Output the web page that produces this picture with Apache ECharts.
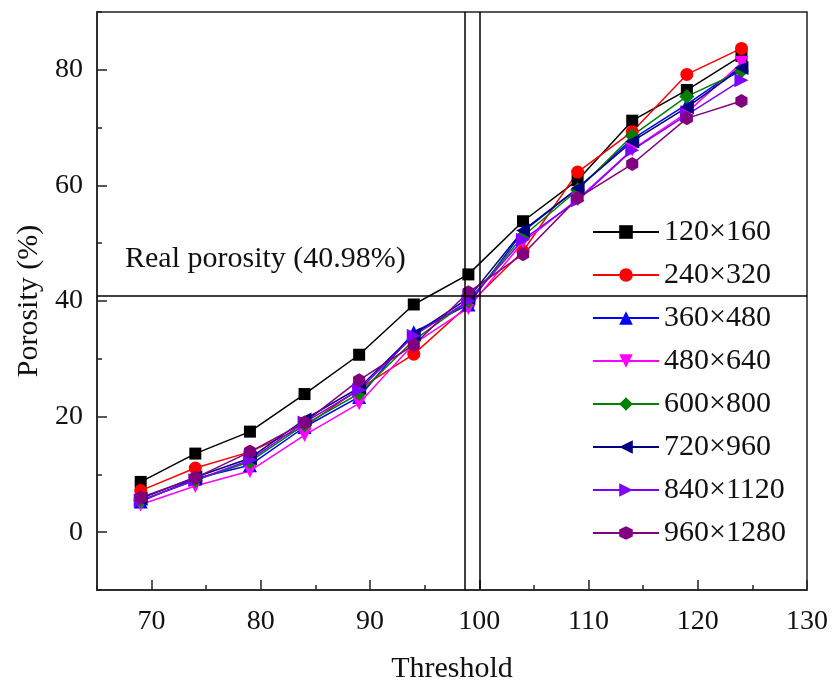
<!DOCTYPE html>
<html>
<head>
<meta charset="utf-8">
<title>Porosity vs threshold</title>
<script src="https://cdn.jsdelivr.net/npm/echarts@6/dist/echarts.min.js"></script>
<style>
    html, body { margin: 0; padding: 0; background: #fff; }
    #porosity-chart { width: 832px; height: 680px; }
</style>
</head>
<body>
<div id="porosity-chart"></div>
<script>
// x values (threshold)
var thresholds = [69, 74, 79, 84, 89, 94, 99, 104, 109, 114, 119, 124];

// porosity (%) for each image size
var p120x160  = [8.7, 13.6, 17.4, 23.9, 30.7, 39.4, 44.6, 53.8, 60.9, 71.2, 76.5, 82.4];
var p240x320  = [7.2, 11.1, 13.9, 18.3, 24.8, 30.8, 39.3, 48.6, 62.3, 69.3, 79.2, 83.7];
var p360x480  = [5.3, 9.3, 11.6, 18.2, 23.4, 34.6, 39.4, 52.0, 59.5, 68.0, 74.0, 80.5];
var p480x640  = [4.8, 8.0, 10.6, 16.8, 22.3, 32.6, 38.8, 50.2, 57.6, 66.2, 72.6, 81.2];
var p600x800  = [5.5, 9.0, 12.2, 18.6, 24.0, 33.2, 40.0, 51.2, 59.2, 68.6, 75.4, 79.8];
var p720x960  = [5.8, 9.5, 12.8, 19.5, 25.0, 34.2, 40.5, 52.2, 59.5, 67.6, 73.5, 80.3];
var p840x1120 = [5.5, 9.0, 12.5, 19.0, 24.6, 34.0, 40.0, 50.6, 57.4, 66.1, 72.2, 78.2];
var p960x1280 = [6.0, 9.4, 13.9, 19.0, 26.3, 32.4, 41.5, 48.1, 57.8, 63.7, 71.6, 74.6];

var seriesNames = ['120×160', '240×320', '360×480', '480×640', '600×800', '720×960', '840×1120', '960×1280'];

var realPorosity = 40.98;
var thresholdLines = [98.7, 100.05];

var xMajorTicks = [70, 80, 90, 100, 110, 120, 130];
var yMajorTicks = [0, 20, 40, 60, 80];

var FONT = "'Liberation Serif', 'Times New Roman', serif";
var AXIS_COLOR = '#222';

function pairs(values) {
    var out = [];
    for (var i = 0; i < thresholds.length; i++) {
        out.push([thresholds[i], values[i]]);
    }
    return out;
}

var hexagon = 'path://M0,-1L0.866,-0.5L0.866,0.5L0,1L-0.866,0.5L-0.866,-0.5Z';

var styles = [
    { data: p120x160,  color: '#000000', symbol: 'rect',     size: 12, rotate: 0 },
    { data: p240x320,  color: '#ff0000', symbol: 'circle',   size: 13, rotate: 0 },
    { data: p360x480,  color: '#0000ff', symbol: 'triangle', size: 14, rotate: 0 },
    { data: p480x640,  color: '#ff00ff', symbol: 'triangle', size: 14, rotate: 180 },
    { data: p600x800,  color: '#008000', symbol: 'diamond',  size: 15, rotate: 0 },
    { data: p720x960,  color: '#000080', symbol: 'triangle', size: 14, rotate: 90 },
    { data: p840x1120, color: '#8000ff', symbol: 'triangle', size: 14, rotate: -90 },
    { data: p960x1280, color: '#800080', symbol: hexagon,    size: 14, rotate: 0 }
];

var series = [];
for (var k = 0; k < styles.length; k++) {
    var st = styles[k];
    var s = {
        name: seriesNames[k],
        type: 'line',
        data: pairs(st.data),
        symbol: st.symbol,
        symbolSize: st.size,
        symbolRotate: st.rotate,
        symbolKeepAspect: true,
        showSymbol: true,
        lineStyle: { color: st.color, width: 1.5 },
        itemStyle: { color: st.color },
        emphasis: { disabled: true },
        animation: false
    };
    if (k === 0) {
        // reference lines: real porosity and the two thresholds
        s.markLine = {
            silent: true,
            symbol: ['none', 'none'],
            label: { show: false },
            lineStyle: { color: '#000', type: 'solid', width: 1.5 },
            data: [
                { yAxis: realPorosity },
                { xAxis: thresholdLines[0] },
                { xAxis: thresholdLines[1] }
            ],
            animation: false
        };
    }
    series.push(s);
}

var myChart = echarts.init(document.getElementById('porosity-chart'));

var tickStyle = { color: AXIS_COLOR, width: 1.5 };

var option = {
    backgroundColor: '#fff',
    animation: false,
    grid: {
        left: 97,
        top: 12,
        right: 25,
        bottom: 90,
        containLabel: false,
        outerBoundsMode: 'none',
        show: true,
        borderColor: AXIS_COLOR,
        borderWidth: 1.5
    },
    legend: {
        orient: 'vertical',
        left: 592,
        top: 217,
        padding: 0,
        itemWidth: 66,
        itemHeight: 17,
        itemGap: 13,
        textStyle: { fontFamily: FONT, fontSize: 30, lineHeight: 30, color: '#111' },
        data: seriesNames
    },
    graphic: [
        {
            type: 'text',
            left: 125,
            top: 244,
            style: { text: 'Real porosity (40.98%)', font: '30px ' + FONT, fill: '#111' }
        }
    ],
    xAxis: [
        {
            type: 'value',
            min: 65,
            max: 130,
            interval: 5,
            name: 'Threshold',
            nameLocation: 'middle',
            nameGap: 64,
            nameTextStyle: { fontFamily: FONT, fontSize: 30, color: '#111' },
            axisLine: { show: true, onZero: false, lineStyle: tickStyle },
            axisTick: { show: true, inside: true, length: 5, lineStyle: tickStyle },
            axisLabel: { customValues: xMajorTicks, fontFamily: FONT, fontSize: 28, color: '#111', margin: 18 },
            splitLine: { show: false }
        },
        {
            // longer ticks at the labelled values
            type: 'value',
            min: 65,
            max: 130,
            position: 'bottom',
            axisLine: { show: false, onZero: false },
            axisTick: { show: true, inside: true, length: 10, customValues: xMajorTicks, lineStyle: tickStyle },
            axisLabel: { show: false },
            splitLine: { show: false }
        }
    ],
    yAxis: [
        {
            type: 'value',
            min: -10,
            max: 90,
            interval: 10,
            name: 'Porosity (%)',
            nameLocation: 'middle',
            nameGap: 52,
            nameTextStyle: { fontFamily: FONT, fontSize: 30, color: '#111' },
            axisLine: { show: true, onZero: false, lineStyle: tickStyle },
            axisTick: { show: true, inside: true, length: 5, lineStyle: tickStyle },
            axisLabel: { customValues: yMajorTicks, fontFamily: FONT, fontSize: 28, color: '#111', margin: 14 },
            splitLine: { show: false }
        },
        {
            type: 'value',
            min: -10,
            max: 90,
            position: 'left',
            axisLine: { show: false, onZero: false },
            axisTick: { show: true, inside: true, length: 10, customValues: yMajorTicks, lineStyle: tickStyle },
            axisLabel: { show: false },
            splitLine: { show: false }
        }
    ],
    series: series
};

myChart.setOption(option);
</script>
</body>
</html>
